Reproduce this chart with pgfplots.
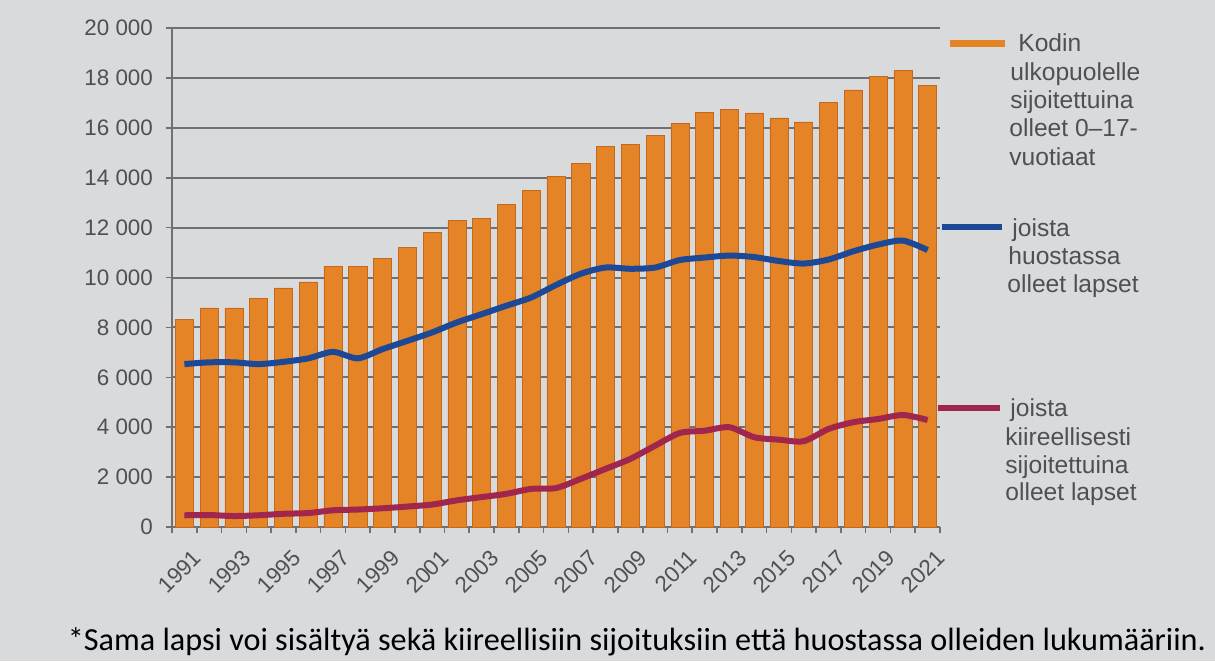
\documentclass[border=0pt]{standalone}
\usepackage{fontspec}
\setmainfont{Liberation Sans}
\newfontfamily\carlito{Carlito}
\usepackage{pgfplots}
\pgfplotsset{compat=1.18}
\usepackage{pgfplotstable}

\definecolor{bgc}{RGB}{216,218,220}
\definecolor{barc}{RGB}{228,132,38}
\definecolor{bare}{RGB}{196,104,30}
\definecolor{bluec}{RGB}{28,72,150}
\definecolor{redc}{RGB}{160,38,78}
\definecolor{gridc}{RGB}{112,112,114}
\definecolor{txtc}{RGB}{80,80,84}

\pgfplotstableread{
x year bars huostassa kiireellisesti
0 1991 8330 6530 470
1 1992 8780 6600 480
2 1993 8780 6600 440
3 1994 9160 6530 470
4 1995 9580 6620 530
5 1996 9820 6760 560
6 1997 10450 7020 670
7 1998 10440 6760 700
8 1999 10770 7130 750
9 2000 11200 7460 820
10 2001 11800 7800 900
11 2002 12280 8200 1070
12 2003 12360 8530 1200
13 2004 12930 8870 1330
14 2005 13500 9200 1530
15 2006 14050 9700 1560
16 2007 14580 10150 1930
17 2008 15250 10400 2330
18 2009 15320 10350 2730
19 2010 15700 10400 3260
20 2011 16170 10700 3770
21 2012 16620 10800 3860
22 2013 16730 10880 4000
23 2014 16600 10820 3600
24 2015 16400 10660 3500
25 2016 16240 10560 3440
26 2017 17020 10720 3930
27 2018 17520 11050 4200
28 2019 18050 11320 4330
29 2020 18300 11480 4490
30 2021 17700 11100 4290
}\data

\begin{document}
\begin{tikzpicture}
\path[fill=bgc, use as bounding box] (-86pt,-67pt) rectangle (521.5pt,263.5pt);
\begin{axis}[
  at={(0pt,0pt)}, anchor=south west,
  scale only axis, width=384pt, height=249.5pt,
  xmin=-0.5, xmax=30.5, ymin=0, ymax=20000,
  ytick={0,2000,...,20000},
  scaled y ticks=false,
  ymajorgrids,
  grid style={gridc, line width=1pt},
  axis x line*=bottom, axis y line*=left,
  axis line style={gridc, line width=1pt},
  tick style={gridc, line width=0.8pt},
  tick align=outside,
  major tick length=3pt,
  xtick={-0.5,0.5,...,30.5},
  xticklabels={},
  extra x ticks={0,2,...,30},
  extra x tick labels={1991,1993,1995,1997,1999,2001,2003,2005,2007,2009,2011,2013,2015,2017,2019,2021},
  extra x tick style={major tick length=0pt, grid=none,
    xticklabel style={rotate=45, anchor=north east, xshift=-1.4pt, yshift=-6.6pt}},
  /pgf/number format/assume math mode=true,
  /pgf/number format/1000 sep={\ },
  ticklabel style={font=\fontsize{11.2}{13}\selectfont, text=txtc},
  yticklabel style={xshift=-3pt},
  clip=false,
]
\addplot[ybar, bar width=0.73, fill=barc, draw=bare, line width=0.3pt] table[x=x,y=bars]{\data};
\addplot[bluec, line width=3pt, smooth, tension=0.45, mark=none] table[x=x,y=huostassa]{\data};
\addplot[redc, line width=3pt, smooth, tension=0.45, mark=none] table[x=x,y=kiireellisesti]{\data};
\end{axis}
% legend
\draw[barc, line width=3.5pt] (389pt,242pt) -- (416.5pt,242pt);
\draw[bluec, line width=3pt] (385pt,150pt) -- (415pt,150pt);
\draw[redc, line width=3pt] (383pt,59.5pt) -- (414pt,59.5pt);
\begin{scope}[every node/.style={anchor=base west, inner sep=0pt, text=txtc, font=\fontsize{12.3}{14}\selectfont}]
\node at (423pt,238pt) {Kodin};
\node at (419pt,223.5pt) {ulkopuolelle};
\node at (419pt,209.5pt) {sijoitettuina};
\node at (418.5pt,195.5pt) {olleet 0–17-};
\node at (418.5pt,181pt) {vuotiaat};
\node at (420pt,145.5pt) {joista};
\node at (418pt,131.5pt) {huostassa};
\node at (417.5pt,117.5pt) {olleet lapset};
\node at (419pt,55.5pt) {joista};
\node at (416.5pt,41pt) {kiireellisesti};
\node at (416.5pt,27pt) {sijoitettuina};
\node at (416.5pt,13.5pt) {olleet lapset};
\end{scope}
\node[anchor=center, inner sep=0pt, font=\carlito\fontsize{16.1}{19}\selectfont] at (232.5pt,-57.5pt)
  {*Sama lapsi voi sisältyä sekä kiireellisiin sijoituksiin että huostassa olleiden lukumääriin.};
\end{tikzpicture}
\end{document}
